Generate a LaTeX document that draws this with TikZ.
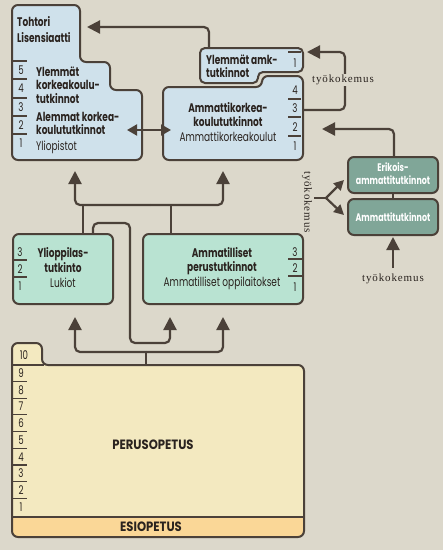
\documentclass[tikz,border=0pt]{standalone}
\usepackage{fontspec}
\setmainfont{Poppins}[FakeStretch=0.72]
\newfontfamily\capsfont{Poppins}[FakeStretch=0.86]
\newfontfamily\tyofont{Liberation Serif}[LetterSpace=8]
\usetikzlibrary{arrows.meta}
\definecolor{bg}{HTML}{DCD8CB}
\definecolor{blu}{HTML}{CFE1EB}
\definecolor{grn}{HTML}{B9E3D2}
\definecolor{dgrn}{HTML}{80A698}
\definecolor{yel}{HTML}{F3E9C0}
\definecolor{org}{HTML}{FAD797}
\definecolor{ln}{HTML}{4B4139}
\definecolor{txt}{HTML}{2A231F}
\begin{document}
\begin{tikzpicture}[x=1pt,y=1pt,
  boxline/.style={draw=ln, line width=2pt, rounded corners=6pt},
  conn/.style={draw=ln, line width=2.2pt, rounded corners=5pt},
  arr/.style={conn, -{Triangle[width=13pt,length=13pt]}},
  sarr/.style={conn, -{Triangle[width=10pt,length=10pt]}},
  darr/.style={draw=ln, line width=2pt, {Triangle[width=11pt,length=10pt]}-{Triangle[width=11pt,length=10pt]}},
  tick/.style={draw=ln, line width=1.2pt},
  tb/.style={font=\bfseries\fontsize{12.5}{14}\selectfont, text=txt, inner sep=0pt},
  tr/.style={font=\fontsize{12.5}{14}\selectfont, text=txt, inner sep=0pt},
  tw/.style={font=\bfseries\fontsize{11}{12}\selectfont, text=white, inner sep=0pt},
  num/.style={font=\fontsize{12}{13}\selectfont, text=txt, inner sep=0pt},
  tcap/.style={font=\capsfont\bfseries\fontsize{13.5}{15}\selectfont, text=txt, inner sep=0pt},
  tyo/.style={font=\tyofont\fontsize{11}{12}\selectfont, text=txt, fill=bg, inner sep=1pt}
]
\useasboundingbox (0,0) rectangle (443,-550);
\fill[bg] (0,0) rectangle (443,-550);

% ---------- boxes ----------
% university
\filldraw[boxline, fill=blu] (12,-160) -- (12,-5) -- (80,-5) -- (80,-62) -- (110,-62) -- (110,-90) -- (142,-90) -- (142,-160) -- cycle;
% ylemmat amk
\filldraw[boxline, fill=blu, rounded corners=5pt] (200,-83) -- (200,-48) -- (303,-48) -- (303,-72) -- (258,-72) -- (258,-83) -- cycle;
% amk
\filldraw[boxline, fill=blu] (163,-160) -- (163,-87) -- (262,-87) -- (262,-76) -- (303,-76) -- (303,-160) -- cycle;
% lukio
\filldraw[boxline, fill=grn] (13,-234) rectangle (113,-304);
% ammatilliset
\filldraw[boxline, fill=grn] (143,-234) rectangle (303,-304);
% erikois / ammattitutkinnot
\filldraw[boxline, fill=dgrn] (348,-157) rectangle (438,-193);
\filldraw[boxline, fill=dgrn] (348,-199) rectangle (438,-235);
% perusopetus
\begin{scope}
  \clip[rounded corners=6pt] (12,-537) -- (12,-343) -- (42,-343) -- (42,-365) -- (304,-365) -- (304,-537) -- cycle;
  \fill[yel] (0,-330) rectangle (443,-517);
  \fill[org] (0,-517) rectangle (443,-550);
\end{scope}
\draw[boxline] (12,-537) -- (12,-343) -- (42,-343) -- (42,-365) -- (304,-365) -- (304,-537) -- cycle;
\draw[draw=ln, line width=2pt] (12,-365) -- (44,-365);
\draw[draw=ln, line width=2pt] (12,-517) -- (304,-517);

% ---------- named anchor points ----------
\coordinate (yamkTop) at (209,-48);
\coordinate (thtTip) at (87,-27);
\coordinate (uniR) at (127,-130);
\coordinate (amkL) at (171,-130);
\coordinate (amkR) at (303,-110);
\coordinate (yamkTip) at (307,-52);
\coordinate (eriTop) at (394,-157);
\coordinate (amkTip2) at (322,-129);
\coordinate (eriBot) at (393,-193);
\coordinate (attTop) at (393,-199);
\coordinate (attBot) at (393,-237);
\coordinate (fork) at (326,-198);
\coordinate (forkS) at (314,-198);
\coordinate (eriTip) at (344,-180);
\coordinate (attTip) at (344,-215);
\coordinate (lukTop) at (83,-234);
\coordinate (lukTop2) at (93,-234);
\coordinate (ammTop) at (171,-234);
\coordinate (hubA) at (150,-205);
\coordinate (uniTip) at (75,-171);
\coordinate (amkTip) at (223,-171);
\coordinate (perTop) at (146,-365);
\coordinate (hubB) at (146,-352);
\coordinate (lukTip) at (75,-317);
\coordinate (ammTip1) at (170,-317);
\coordinate (ammTip2) at (223,-317);

% ---------- connectors ----------
\draw[arr] (yamkTop) |- (thtTip);
\draw[darr] (uniR) -- (amkL);
\draw[arr] (amkR) -- (345,-110) -- (345,-52) -- (yamkTip);
\draw[arr] (eriTop) |- (amkTip2);
\draw[conn] (eriBot) -- (attTop);
\draw[conn, rounded corners=0pt] (forkS) -- (fork);
\draw[sarr] (fork) -- (eriTip);
\draw[sarr] (fork) -- (attTip);
\draw[conn] (lukTop) -- (83,-205);
\draw[conn] (ammTop) -- (171,-205);
\draw[arr] (hubA) -| (uniTip);
\draw[arr] (hubA) -| (amkTip);
\draw[arr] (lukTop2) |- (130,-223) |- (170,-343) -- (ammTip1);
\draw[conn] (perTop) -- (hubB);
\draw[arr] (hubB) -| (lukTip);
\draw[arr] (hubB) -| (ammTip2);
\draw[arr] (393,-268) -- (attBot);

% ---------- työkokemus labels ----------
\node[tyo] (tyo1) at (343,-80) {työkokemus};
\node[tyo, rotate=-90] (tyo2) at (307,-202) {työkokemus};
\node[tyo] (tyo3) at (393,-279) {työkokemus};

% ---------- texts ----------
\node[tb, anchor=base west] (t1) at (17,-26) {Tohtori};
\node[tb, anchor=base west] (t2) at (17,-42) {Lisensiaatti};
\node[tb, anchor=base west] (t3) at (36,-76) {Ylemmät};
\node[tb, anchor=base west] (t4) at (36,-89) {korkeakoulu-};
\node[tb, anchor=base west] (t5) at (36,-103) {tutkinnot};
\node[tb, anchor=base west] (t6) at (36,-121) {Alemmat korkea-};
\node[tb, anchor=base west] (t7) at (36,-134) {koulututkinnot};
\node[tr, anchor=base west] (t8) at (36,-150) {Yliopistot};

\node[tb, anchor=base west] (a1) at (206,-64) {Ylemmät amk-};
\node[tb, anchor=base west] (a2) at (206,-77) {tutkinnot};
\node[tb, anchor=base] (a3) at (228,-112) {Ammattikorkea-};
\node[tb, anchor=base] (a4) at (228,-126) {koulututkinnot};
\node[tr, anchor=base] (a5) at (228,-141) {Ammattikorkeakoulut};

\node[tb, anchor=base] (l1) at (63,-257) {Ylioppilas-};
\node[tb, anchor=base] (l2) at (63,-272) {tutkinto};
\node[tr, anchor=base] (l3) at (63,-287) {Lukiot};

\node[tb, anchor=base] (m1) at (222,-257) {Ammatilliset};
\node[tb, anchor=base] (m2) at (222,-271) {perustutkinnot};
\node[tr, anchor=base] (m3) at (222,-286) {Ammatilliset oppilaitokset};

\node[tw, anchor=base] (e1) at (393,-171) {Erikois-};
\node[tw, anchor=base] (e2) at (393,-184) {ammattitutkinnot};
\node[tw, anchor=base] (e3) at (393,-221) {Ammattitutkinnot};

\node[tcap] (po) at (153,-445) {PERUSOPETUS};
\node[tcap] (eo) at (151,-527) {ESIOPETUS};

% ---------- grade scales ----------
\foreach \n/\y in {5/70,4/88,3/107,2/125,1/143}
  \node[num, anchor=base] (u\n) at (21,{-\y-4.5}) {\n};
\foreach \y in {61,79,98,116,134}
  \draw[tick] (13,-\y) -- (27,-\y);

\node[num, anchor=base] (ya1) at (295,-67.5) {1};
\draw[tick] (288,-52) -- (301,-52);
\foreach \n/\y in {4/90,3/108,2/127,1/146}
  \node[num, anchor=base] (k\n) at (295,{-\y-4.5}) {\n};
\foreach \y in {99,117,136}
  \draw[tick] (288,-\y) -- (301,-\y);

\foreach \n/\y in {3/252,2/269,1/286}
  \node[num, anchor=base] (lk\n) at (20,{-\y-4.5}) {\n};
\foreach \y in {260,277}
  \draw[tick] (13,-\y) -- (27,-\y);

\foreach \n/\y in {3/252,2/268,1/287}
  \node[num, anchor=base] (ap\n) at (295,{-\y-4.5}) {\n};
\foreach \y in {259,276}
  \draw[tick] (288,-\y) -- (302,-\y);

\node[num, anchor=base] (p10) at (24,-359.5) {10};
\foreach \n in {1,...,9}
  \node[num, anchor=base] (p\n) at (21,{-(373+16.7*(9-\n))-4.5}) {\n};
\foreach \k in {1,...,8}
  \draw[tick] (13,{-(373+16.7*\k-8.3)}) -- (27,{-(373+16.7*\k-8.3)});
\end{tikzpicture}
\end{document}
